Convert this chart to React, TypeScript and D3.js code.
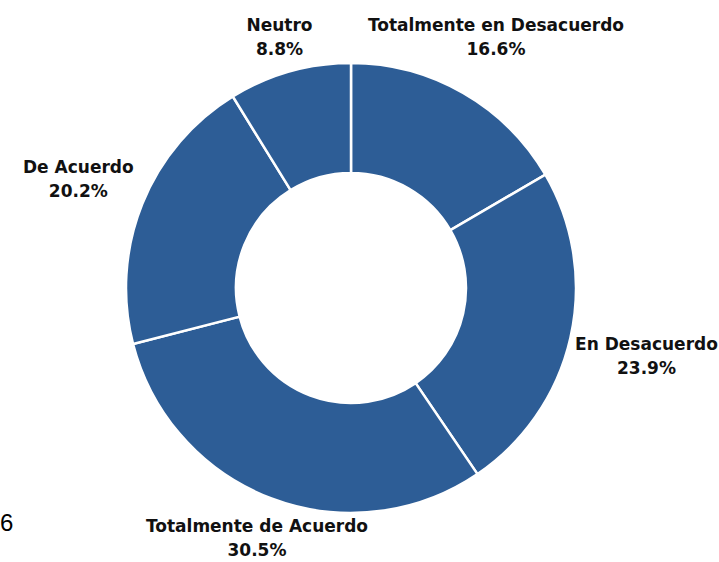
import React, { useEffect, useRef } from 'react';
import * as d3 from 'd3';

const categories = ['Totalmente en Desacuerdo', 'En Desacuerdo', 'Totalmente de Acuerdo', 'De Acuerdo', 'Neutro'];
const values = [16.6, 23.9, 30.5, 20.2, 8.8];
const valueLabels = ['16.6%', '23.9%', '30.5%', '20.2%', '8.8%'];

const App = () => {
  const svgRef = useRef<SVGSVGElement>(null);

  useEffect(() => {
    const width = 719;
    const height = 562;
    const cx = 351;
    const cy = 288;
    const outer = 225;
    const inner = 115;
    // distance of each label block from the centre
    const labelRadius = [291, 303, 266, 294, 262];

    const svg = d3.select(svgRef.current)
      .attr('width', width)
      .attr('height', height);
    svg.selectAll('*').remove();

    const data = categories.map((c, i) => ({ name: c, value: values[i], label: valueLabels[i] }));

    const pie = d3.pie<any>().value(d => d.value).sort(null);
    const arc = d3.arc<any>().innerRadius(inner).outerRadius(outer);
    const arcs = pie(data);

    const g = svg.append('g').attr('transform', `translate(${cx},${cy})`);

    g.selectAll('path')
      .data(arcs)
      .enter()
      .append('path')
      .attr('d', arc)
      .attr('fill', '#2d5d96')
      .attr('stroke', '#ffffff')
      .attr('stroke-width', 2.5);

    const labels = g.selectAll('.lbl')
      .data(arcs)
      .enter()
      .append('text')
      .attr('class', 'lbl')
      .attr('text-anchor', 'middle')
      .style('font-family', 'DejaVu Sans, sans-serif')
      .style('font-weight', 700)
      .style('font-size', '17px')
      .attr('fill', '#111');

    labels.each(function (d, i) {
      const a = (d.startAngle + d.endAngle) / 2;
      const x = Math.sin(a) * labelRadius[i];
      const y = -Math.cos(a) * labelRadius[i];
      const t = d3.select(this);
      t.append('tspan').attr('x', x).attr('y', y - 5).text(d.data.name);
      t.append('tspan').attr('x', x).attr('y', y + 19).text(d.data.label);
    });

    svg.append('text')
      .attr('x', 0)
      .attr('y', 531)
      .style('font-family', 'Liberation Sans, Arial, sans-serif')
      .style('font-size', '24px')
      .attr('fill', '#000')
      .text('6');
  }, []);

  return (
    <svg ref={svgRef} style={{ position: 'absolute', left: 0, top: 0 }}></svg>
  );
};

export default App;
